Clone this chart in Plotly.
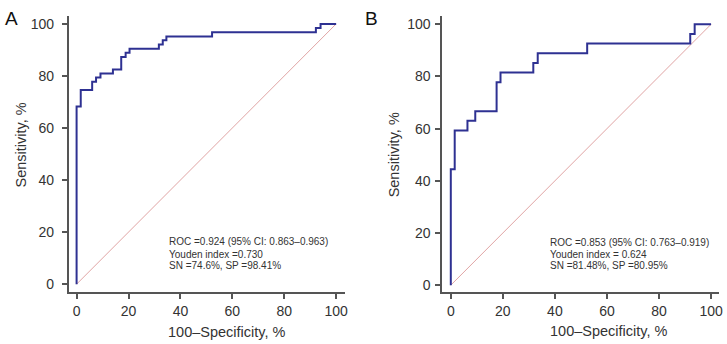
import plotly.graph_objects as go

# ---- data ----
fpr_a = [0, 0, 1.6, 6.0, 7.5, 9.2, 14.0, 17.2, 18.9, 20.4, 31.7, 33.2, 34.6, 52.2, 92.2, 94.0, 100]
sens_a = [0, 68.3, 74.6, 77.8, 79.4, 81.0, 82.5, 87.3, 88.9, 90.5, 92.1, 93.7, 95.2, 96.8, 98.4, 100, 100]

fpr_b = [0, 0, 1.5, 6.4, 9.4, 17.6, 19.1, 31.7, 33.4, 52.4, 92.0, 93.7, 100]
sens_b = [0, 44.4, 59.3, 63.0, 66.7, 77.8, 81.5, 85.2, 88.9, 92.6, 96.3, 100, 100]

diag = [0, 100]
tick_vals = [0, 20, 40, 60, 80, 100]
tick_text = ["0", "20", "40", "60", "80", "100"]

text_a = ["ROC =0.924 (95% CI: 0.863–0.963)", "Youden index =0.730", "SN =74.6%, SP =98.41%"]
text_b = ["ROC =0.853 (95% CI: 0.763–0.919)", "Youden index = 0.624", "SN =81.48%, SP =80.95%"]
panel_labels = ["A", "B"]
x_title = "100–Specificity, %"
y_title = "Sensitivity, %"

W, H = 727, 344
FONT = "Liberation Sans, Arial, Helvetica, sans-serif"
CURVE = "#2e3192"
DIAG = "#e0a4a4"
AXIS = "#555555"
TXT = "#333333"

def px(x):
    return x / W

def py(y):
    return 1 - y / H

fig = go.Figure()

fig.add_trace(go.Scatter(x=diag, y=diag, mode="lines", line=dict(color=DIAG, width=1),
                         xaxis="x", yaxis="y", hoverinfo="skip"))
fig.add_trace(go.Scatter(x=fpr_a, y=sens_a, mode="lines", line=dict(color=CURVE, width=2, shape="hv"),
                         xaxis="x", yaxis="y"))
fig.add_trace(go.Scatter(x=diag, y=diag, mode="lines", line=dict(color=DIAG, width=1),
                         xaxis="x2", yaxis="y2", hoverinfo="skip"))
fig.add_trace(go.Scatter(x=fpr_b, y=sens_b, mode="lines", line=dict(color=CURVE, width=2, shape="hv"),
                         xaxis="x2", yaxis="y2"))

axis_common = dict(
    showgrid=False, zeroline=False, showline=True, linecolor=AXIS, linewidth=1.5,
    ticks="outside", ticklen=5, tickwidth=1.5, tickcolor=AXIS,
    tickvals=tick_vals, ticktext=tick_text,
    tickfont=dict(family=FONT, size=14, color=TXT),
    fixedrange=True,
)

fig.update_layout(
    width=W, height=H,
    margin=dict(l=0, r=0, t=0, b=0),
    paper_bgcolor="white", plot_bgcolor="white",
    showlegend=False,
    xaxis=dict(domain=[px(69), px(347)], range=[-3.07, 103.45], anchor="y", **axis_common),
    yaxis=dict(domain=[py(293), py(16)], range=[-3.07, 103.07], anchor="x",
               ticklabelstandoff=5, **axis_common),
    xaxis2=dict(domain=[px(444.5), px(723)], range=[-3.36, 103.06], anchor="y2", **axis_common),
    yaxis2=dict(domain=[py(293.3), py(16)], range=[-2.79, 103.2], anchor="x2",
                ticklabelstandoff=2, **axis_common),
)

ann = []
# stats text
for i, (ya, yb) in enumerate(zip([242.7, 255, 266.7], [243.3, 255.3, 266.7])):
    ann.append(dict(x=px(168), y=py(ya), xref="paper", yref="paper", text=text_a[i], showarrow=False,
                    xanchor="left", yanchor="middle", font=dict(family=FONT, size=10, color=TXT)))
    ann.append(dict(x=px(551), y=py(yb), xref="paper", yref="paper", text=text_b[i], showarrow=False,
                    xanchor="left", yanchor="middle", font=dict(family=FONT, size=10, color=TXT)))
# axis titles
for (cx, cy) in [(228, 332.7), (612.7, 331.7)]:
    ann.append(dict(x=px(cx), y=py(cy), xref="paper", yref="paper", text=x_title, showarrow=False,
                    xanchor="center", yanchor="middle", font=dict(family=FONT, size=14.5, color=TXT)))
for (cx, cy) in [(21, 145), (396, 155)]:
    ann.append(dict(x=px(cx), y=py(cy), xref="paper", yref="paper", text=y_title, showarrow=False,
                    textangle=-90, xanchor="center", yanchor="middle",
                    font=dict(family=FONT, size=14.5, color=TXT)))
# panel labels
for lab, (cx, cy) in zip(panel_labels, [(12, 19), (374, 19)]):
    ann.append(dict(x=px(cx), y=py(cy), xref="paper", yref="paper", text=lab, showarrow=False,
                    xanchor="center", yanchor="middle", font=dict(family=FONT, size=19, color="#111111")))

fig.update_layout(annotations=ann)

fig.write_html("out.html", config={"displayModeBar": False},
               post_script="document.body.style.margin='0px';document.body.style.overflow='hidden';")
